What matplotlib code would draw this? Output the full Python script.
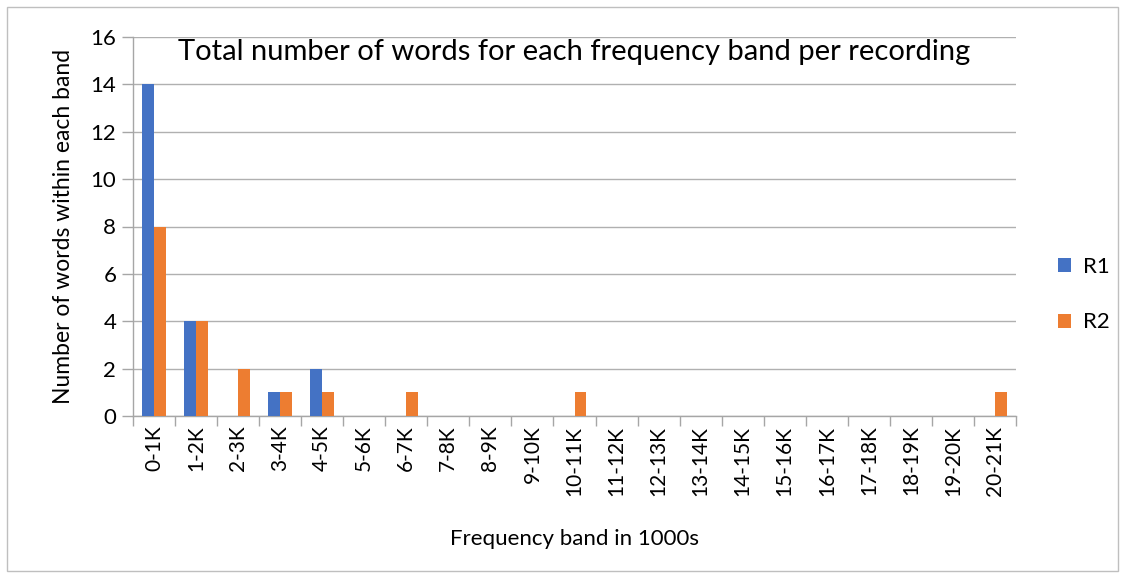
import matplotlib
matplotlib.use("Agg")
import matplotlib.pyplot as plt
import numpy as np

categories = ["0-1K", "1-2K", "2-3K", "3-4K", "4-5K", "5-6K", "6-7K", "7-8K", "8-9K", "9-10K",
              "10-11K", "11-12K", "12-13K", "13-14K", "14-15K", "15-16K", "16-17K", "17-18K",
              "18-19K", "19-20K", "20-21K"]
r1 = [14, 4, 0, 1, 2, 0, 0, 0, 0, 0, 0, 0, 0, 0, 0, 0, 0, 0, 0, 0, 0]
r2 = [8, 4, 2, 1, 1, 0, 1, 0, 0, 0, 1, 0, 0, 0, 0, 0, 0, 0, 0, 0, 1]
yticks = [0, 2, 4, 6, 8, 10, 12, 14, 16]

plt.rcParams['font.family'] = ['Lato', 'DejaVu Sans']

fig = plt.figure(figsize=(11.25, 5.78), dpi=100)
fig.patch.set_facecolor("white")
# outer chart border
fig.add_artist(plt.Rectangle((7/1125, 1 - 571/578), (1118-7)/1125, (571-7)/578,
                             transform=fig.transFigure, fill=False, edgecolor="#BFBFBF", linewidth=1))

ax = fig.add_axes([133/1125, 1 - 416/578, (1016-133)/1125, (416-37)/578])
x = np.arange(len(categories))
w = 0.285
ax.bar(x - w/2, r1, width=w, color="#4472C4", label="R1", zorder=3)
ax.bar(x + w/2, r2, width=w, color="#ED7D31", label="R2", zorder=3)

ax.set_xlim(-0.5, len(categories) - 0.5)
ax.set_ylim(0, 16)
ax.set_yticks(yticks)
ax.set_yticklabels([str(v) for v in yticks], fontsize=16)
ax.yaxis.grid(True, color="#B0B0B0", linewidth=1, zorder=0)
ax.tick_params(axis='y', length=8, color="#A6A6A6", width=1, pad=4)

ax.set_xticks(x)
ax.set_xticklabels(categories, rotation=90, fontsize=15)
ax.set_xticks(np.arange(-0.5, len(categories), 1), minor=True)
ax.tick_params(axis='x', which='major', length=0, pad=7)
ax.tick_params(axis='x', which='minor', length=7, color="#A6A6A6", width=1)

for s in ["top", "right"]:
    ax.spines[s].set_visible(False)
for s in ["left", "bottom"]:
    ax.spines[s].set_color("#A6A6A6")
    ax.spines[s].set_linewidth(1)

ax.set_xlabel("Frequency band in 1000s", fontsize=16, labelpad=24)
ax.set_ylabel("Number of words within each band", fontsize=16.5, labelpad=12)
ax.text(0.5, 0.995, "Total number of words for each frequency band per recording",
        transform=ax.transAxes, ha="center", va="top", fontsize=21)

leg = ax.legend(loc="center left", bbox_to_anchor=(1.025, 0.32), frameon=False, fontsize=16,
                handlelength=0.6, handleheight=0.6, labelspacing=1.6, handletextpad=0.5)

fig.savefig("out.png", dpi=100, facecolor="white")
